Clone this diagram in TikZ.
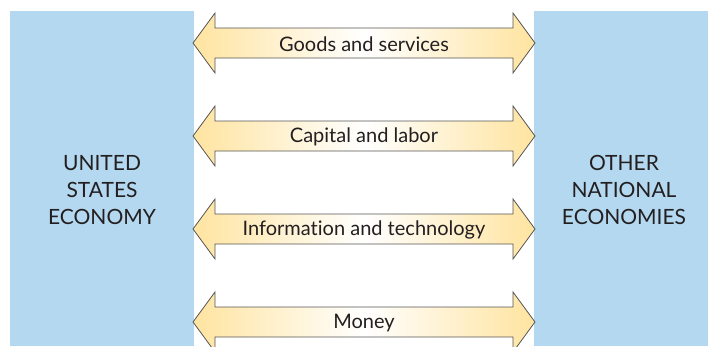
\documentclass[tikz,border=0pt]{standalone}
\usepackage{fontspec}
\setmainfont{Lato}[Ligatures={NoCommon}]
\definecolor{econblue}{HTML}{B3D8F0}
\definecolor{arrowyel}{HTML}{FFE4A0}
\definecolor{arrowline}{HTML}{555555}
\definecolor{txt}{HTML}{231F20}
\begin{document}
\begin{tikzpicture}[x=1pt,y=-1pt,
  econbox/.style={fill=econblue,draw=none,inner sep=0pt,anchor=north west},
  econtext/.style={text=txt,align=center,font=\fontsize{21}{27}\selectfont},
  flowarrow/.style={draw=arrowline,line width=0.8pt,line join=miter,left color=arrowyel,right color=arrowyel,middle color=white},
  flowlabel/.style={text=txt,font=\fontsize{20}{22}\selectfont,inner sep=0pt}]
\useasboundingbox (0,0) rectangle (708,346);
\clip (0,0) rectangle (708,346);
\node[econbox,minimum width=184pt,minimum height=335pt] (us) at (10,11) {};
\node[econbox,minimum width=174pt,minimum height=335pt] (other) at (534,11) {};
\node[econtext] (ustext) at (102,190) {UNITED\\STATES\\ECONOMY};
\node[econtext] (othertext) at (624,190) {OTHER\\NATIONAL\\ECONOMIES};
\foreach \c/\lab/\nm in {43/Goods and services/goods,136/Capital and labor/capital,229/Information and technology/info,322/Money/money}{
  \draw[flowarrow] (193,\c) -- (215,\c-30) -- (215,\c-15) -- (513,\c-15) -- (513,\c-30) -- (535,\c) -- (513,\c+30) -- (513,\c+15) -- (215,\c+15) -- (215,\c+30) -- cycle;
  \node[flowlabel] (\nm) at (364,\c+1) {\lab};
}
\end{tikzpicture}
\end{document}
